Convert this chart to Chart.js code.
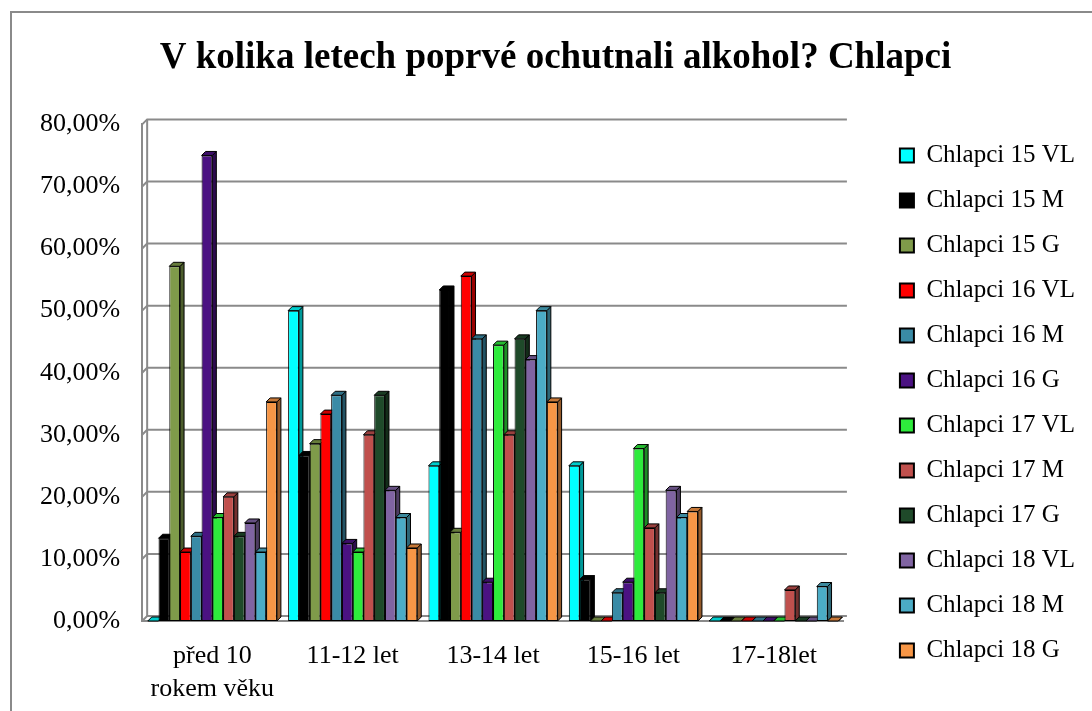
<!DOCTYPE html>
<html><head><meta charset="utf-8">
<title>V kolika letech poprvé ochutnali alkohol? Chlapci</title>
<script src="https://cdn.jsdelivr.net/npm/chart.js@4.4.7/dist/chart.umd.min.js"></script>
<style>
html,body{margin:0;padding:0;background:#fff;overflow:hidden}
#frame{position:absolute;left:10px;top:11px;width:1200px;height:800px;border-left:2px solid #8a8a8a;border-top:2px solid #8a8a8a}
#wrap{position:absolute;left:0;top:0;width:1092px;height:711px}
</style></head><body>
<div id="frame"></div>
<div id="wrap"><canvas id="chart" width="1092" height="711"></canvas></div>
<script>
// kategorie (věk prvního ochutnání)
var CATEGORIES = [['před 10', 'rokem věku'], '11-12 let', '13-14 let', '15-16 let', '17-18let'];
var Y_TICKS = [0, 10, 20, 30, 40, 50, 60, 70, 80];

// hodnoty v %
var CH15_VL = [0, 50, 25, 25, 0];
var CH15_M  = [13.33, 26.67, 53.33, 6.67, 0];
var CH15_G  = [57.14, 28.57, 14.29, 0, 0];
var CH16_VL = [11.11, 33.33, 55.56, 0, 0];
var CH16_M  = [13.64, 36.36, 45.45, 4.55, 0];
var CH16_G  = [75, 12.5, 6.25, 6.25, 0];
var CH17_VL = [16.67, 11.11, 44.44, 27.78, 0];
var CH17_M  = [20, 30, 30, 15, 5];
var CH17_G  = [13.64, 36.36, 45.45, 4.55, 0];
var CH18_VL = [15.79, 21.05, 42.11, 21.05, 0];
var CH18_M  = [11.11, 16.67, 50, 16.67, 5.56];
var CH18_G  = [35.29, 11.76, 35.29, 17.65, 0];

var SERIES = [
  {name: 'Chlapci 15 VL', data: CH15_VL, color: '#00FFFF'},
  {name: 'Chlapci 15 M',  data: CH15_M,  color: '#000000'},
  {name: 'Chlapci 15 G',  data: CH15_G,  color: '#7F9B4A'},
  {name: 'Chlapci 16 VL', data: CH16_VL, color: '#FF0000'},
  {name: 'Chlapci 16 M',  data: CH16_M,  color: '#3A8BA6'},
  {name: 'Chlapci 16 G',  data: CH16_G,  color: '#4B1282'},
  {name: 'Chlapci 17 VL', data: CH17_VL, color: '#2EEB3C'},
  {name: 'Chlapci 17 M',  data: CH17_M,  color: '#C0504D'},
  {name: 'Chlapci 17 G',  data: CH17_G,  color: '#1F4A2A'},
  {name: 'Chlapci 18 VL', data: CH18_VL, color: '#8064A2'},
  {name: 'Chlapci 18 M',  data: CH18_M,  color: '#4BACC6'},
  {name: 'Chlapci 18 G',  data: CH18_G,  color: '#F79646'}
];

var SERIF = '"Liberation Serif", "Times New Roman", serif';
var DEPTH = 4;   // hloubka sloupců
var WALL = 5;    // posun zadní stěny (mřížky)
var GRID = '#8a8a8a';

function shade(hex, k) {
  var n = parseInt(hex.slice(1), 16);
  var r = Math.round(((n >> 16) & 255) * k), g = Math.round(((n >> 8) & 255) * k), b = Math.round((n & 255) * k);
  return 'rgb(' + r + ',' + g + ',' + b + ')';
}

// zadní stěna s mřížkou + 3D stěny sloupců (kreslené pod přední stěny)
var bars3d = {
  id: 'bars3d',
  beforeDatasetsDraw: function(chart) {
    var ctx = chart.ctx, area = chart.chartArea, ys = chart.scales.y;
    ctx.save();
    ctx.strokeStyle = GRID;
    ctx.lineWidth = 2;
    Y_TICKS.forEach(function(v) {
      var py = ys.getPixelForValue(v);
      ctx.beginPath();
      ctx.moveTo(area.left, py); ctx.lineTo(area.left + WALL, py - WALL); ctx.lineTo(area.right + 3, py - WALL);
      ctx.stroke();
    });
    ctx.beginPath();
    ctx.moveTo(area.left + WALL, ys.getPixelForValue(80) - WALL);
    ctx.lineTo(area.left + WALL, ys.getPixelForValue(0) - WALL);
    ctx.stroke();

    ctx.lineWidth = 1;
    ctx.strokeStyle = '#000';
    chart.data.datasets.forEach(function(ds, i) {
      var meta = chart.getDatasetMeta(i);
      meta.data.forEach(function(bar) {
        var p = bar.getProps(['x', 'y', 'base', 'width'], true);
        var l = p.x - p.width / 2, r = p.x + p.width / 2, t = p.y, b = p.base;
        ctx.fillStyle = shade(SERIES[i].color, 0.6);
        ctx.beginPath();
        ctx.moveTo(r, t); ctx.lineTo(r + DEPTH, t - DEPTH); ctx.lineTo(r + DEPTH, b - DEPTH); ctx.lineTo(r, b);
        ctx.closePath(); ctx.fill(); ctx.stroke();
        ctx.fillStyle = shade(SERIES[i].color, 0.8);
        ctx.beginPath();
        ctx.moveTo(l, t); ctx.lineTo(l + DEPTH, t - DEPTH); ctx.lineTo(r + DEPTH, t - DEPTH); ctx.lineTo(r, t);
        ctx.closePath(); ctx.fill(); ctx.stroke();
      });
    });
    ctx.restore();
  }
};

var datasets = SERIES.map(function(s) {
  return {label: s.name, data: s.data, backgroundColor: s.color, borderColor: '#000', borderWidth: 1,
          borderSkipped: false, categoryPercentage: 0.92, barPercentage: 1.0};
});

new Chart(document.getElementById('chart'), {
  type: 'bar',
  data: {labels: CATEGORIES, datasets: datasets},
  plugins: [bars3d],
  options: {
    responsive: false,
    animation: false,
    layout: {padding: {left: 26, right: 7, top: 0, bottom: 0}},
    plugins: {
      title: {display: true, text: 'V kolika letech poprvé ochutnali alkohol? Chlapci', color: '#000',
              font: {family: SERIF, size: 37, weight: 'bold'}, padding: {top: 36, bottom: 44}},
      legend: {
        position: 'right', align: 'start', maxWidth: 300,
        // prázdný titulek legendy jen posouvá položky dolů
        title: {display: true, text: ' ', font: {size: 10}, padding: {top: 111, bottom: 0}},
        labels: {
          color: '#000', font: {family: SERIF, size: 25}, boxWidth: 14, boxHeight: 14, padding: 20,
          generateLabels: function(chart) {
            return Chart.defaults.plugins.legend.labels.generateLabels(chart).map(function(it) {
              it.lineWidth = 2; it.strokeStyle = '#000'; return it;
            });
          }
        }
      },
      tooltip: {enabled: false}
    },
    scales: {
      x: {
        grid: {display: false},
        border: {color: GRID, width: 2},
        ticks: {color: '#000', font: {family: SERIF, size: 26, lineHeight: 1.27}, padding: 11, maxRotation: 0},
        afterFit: function(s) { s.height = 90; }
      },
      y: {
        min: 0, max: 80,
        afterBuildTicks: function(s) { s.ticks = Y_TICKS.map(function(v) { return {value: v}; }); },
        grid: {display: false},
        border: {color: GRID, width: 2},
        ticks: {color: '#000', font: {family: SERIF, size: 26}, padding: 14,
                callback: function(v) { return v.toFixed(2).replace('.', ',') + '%'; }}
      },
      gap: {
        type: 'linear', position: 'right', display: true,
        grid: {display: false}, border: {display: false}, ticks: {display: false},
        afterFit: function(s) { s.width = 36; }
      }
    }
  }
});
</script></body></html>
